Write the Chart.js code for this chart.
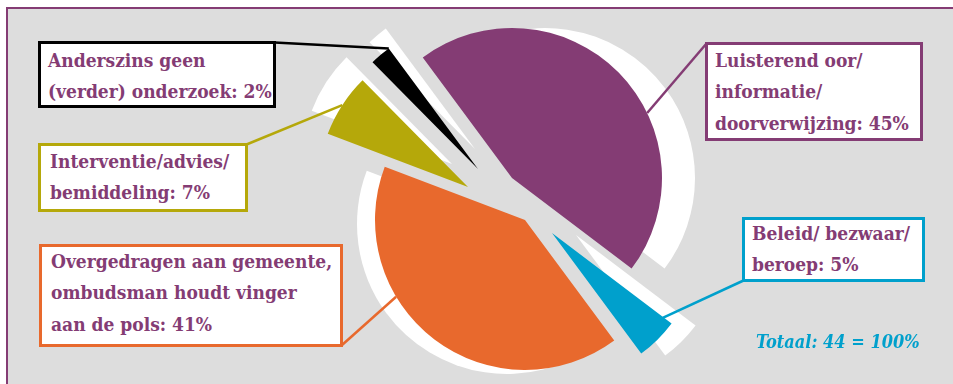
<!DOCTYPE html>
<html>
<head>
<meta charset="utf-8">
<script src="https://cdn.jsdelivr.net/npm/chart.js@4.4.0/dist/chart.umd.min.js"></script>
<style>
html,body{margin:0;padding:0;background:#ffffff;}
#wrap{position:relative;width:953px;height:384px;overflow:hidden;background:#ffffff;}
#frame{position:absolute;left:6px;top:7px;right:0;bottom:0;background:#dddddd;border-left:2px solid #843c74;border-top:2px solid #843c74;}
#c{position:absolute;left:0;top:0;}
.box{position:absolute;box-sizing:border-box;background:#ffffff;border:3px solid #000;}
.box .t{position:absolute;white-space:nowrap;font-family:"DejaVu Serif";font-stretch:condensed;font-weight:bold;font-size:19px;line-height:31.5px;color:#843c74;}
#total{position:absolute;white-space:nowrap;font-family:"DejaVu Serif";font-stretch:condensed;font-style:italic;font-weight:bold;font-size:18px;line-height:20px;color:#00a0cc;}
</style>
</head>
<body>
<div id="wrap">
  <div id="frame"></div>
  <canvas id="c" width="953" height="384"></canvas>
</div>
<script>
// ---- data ----
const categoryLines = [
  ["Luisterend oor/", "informatie/", "doorverwijzing"],
  ["Beleid/ bezwaar/", "beroep"],
  ["Overgedragen aan gemeente,", "ombudsman houdt vinger", "aan de pols"],
  ["Interventie/advies/", "bemiddeling"],
  ["Anderszins geen", "(verder) onderzoek"]
];
const counts = [20, 2, 18, 3, 1];
const totalLabel = "Totaal";

// ---- styles / layout ----
const sliceColors = ["#843c74", "#00a0cc", "#e8692d", "#b5a80a", "#000000"];
const boxBorder   = ["#843c74", "#00a0cc", "#e8692d", "#b5a80a", "#000000"];
// exploded displacement of each slice (px) and its white shadow relative to the slice
const sliceShift  = [[0,-17],[40,38],[13,25],[-44,-8],[-34,-26]];
const shadowShift = [[33,0],[24,2],[-18,4],[-16,-23],[-3,-20]];
// connector anchor on slice: fraction along the slice angle, fraction of radius; box corner
const anchors = [[0.616,1.0,"tl"],[0.02,0.93,"bl"],[0.65,1.0,"br"],[0.5,1.0,"tr"],[1.0,1.0,"tr"]];
const boxes = [
  {left:705,top:42,width:218,height:99,tx:10,base:25},
  {left:742,top:217,width:183,height:65,tx:10,base:23},
  {left:39,top:244,width:304,height:103,tx:12,base:24},
  {left:38,top:143,width:210,height:69,tx:12,base:25},
  {left:38,top:41,width:238,height:67,tx:10,base:26}
];
const ASC = 22.3; // baseline offset inside a line box

const total = counts.reduce((a,b)=>a+b,0);
const wrap = document.getElementById('wrap');
const boxEls = [];
categoryLines.forEach((lines,i)=>{
  const pct = Math.round(counts[i]/total*100);
  const all = lines.slice(); all[all.length-1] = all[all.length-1] + ": " + pct + "%";
  const b = boxes[i];
  const d = document.createElement('div');
  d.className = 'box';
  d.style.left = b.left+'px'; d.style.top = b.top+'px';
  d.style.width = b.width+'px'; d.style.height = b.height+'px';
  d.style.borderColor = boxBorder[i];
  const t = document.createElement('div');
  t.className = 't';
  t.style.left = (b.tx-3)+'px';
  t.style.top = (b.base-ASC-3)+'px';
  t.innerHTML = all.map(s=>s.replace(/&/g,'&amp;')).join('<br>');
  d.appendChild(t);
  wrap.appendChild(d);
  boxEls.push(d);
});
const tot = document.createElement('div');
tot.id = 'total';
tot.textContent = totalLabel + ": " + total + " = 100%";
tot.style.left = '756px'; tot.style.top = '332px';
wrap.appendChild(tot);

function corner(el, c){
  const x0 = el.offsetLeft, y0 = el.offsetTop, w = el.offsetWidth, h = el.offsetHeight;
  const x = c.indexOf('l')>=0 ? x0+1.5 : x0+w-1.5;
  const y = c.indexOf('t')>=0 ? y0+1.5 : y0+h-1.5;
  return [x,y];
}

const explodePlugin = {
  id:'explode',
  beforeDatasetDraw(chart, args){
    const ctx = chart.ctx;
    const arcs = args.meta.data;
    // shadows
    arcs.forEach((arc,i)=>{
      const p = arc.getProps(['x','y','startAngle','endAngle','outerRadius'], true);
      ctx.save();
      ctx.translate(sliceShift[i][0]+shadowShift[i][0], sliceShift[i][1]+shadowShift[i][1]);
      ctx.fillStyle = '#ffffff';
      ctx.beginPath();
      ctx.moveTo(p.x,p.y);
      ctx.arc(p.x,p.y,p.outerRadius,p.startAngle,p.endAngle);
      ctx.closePath();
      ctx.fill();
      ctx.restore();
    });
    // slices
    arcs.forEach((arc,i)=>{
      ctx.save();
      ctx.translate(sliceShift[i][0], sliceShift[i][1]);
      arc.draw(ctx, chart.chartArea);
      ctx.restore();
    });
    // connectors
    arcs.forEach((arc,i)=>{
      const p = arc.getProps(['x','y','startAngle','endAngle','outerRadius'], true);
      const a = p.startAngle + anchors[i][0]*(p.endAngle-p.startAngle);
      const r = anchors[i][1]*p.outerRadius;
      const ax = p.x + sliceShift[i][0] + r*Math.cos(a);
      const ay = p.y + sliceShift[i][1] + r*Math.sin(a);
      const [bx,by] = corner(boxEls[i], anchors[i][2]);
      ctx.save();
      ctx.strokeStyle = boxBorder[i];
      ctx.lineWidth = 2.5;
      ctx.beginPath();
      ctx.moveTo(bx,by);
      ctx.lineTo(ax,ay);
      ctx.stroke();
      ctx.restore();
    });
    return false;
  }
};

new Chart(document.getElementById('c'), {
  type:'pie',
  data:{
    labels: categoryLines.map(l=>l.join(' ')),
    datasets:[{data:counts, backgroundColor:sliceColors, borderWidth:0, clip:false}]
  },
  options:{
    responsive:false,
    animation:false,
    rotation:-36.5,
    events:[],
    layout:{padding:{left:362,right:291,top:45,bottom:39}},
    plugins:{legend:{display:false}, tooltip:{enabled:false}}
  },
  plugins:[explodePlugin]
});
</script>
</body>
</html>
